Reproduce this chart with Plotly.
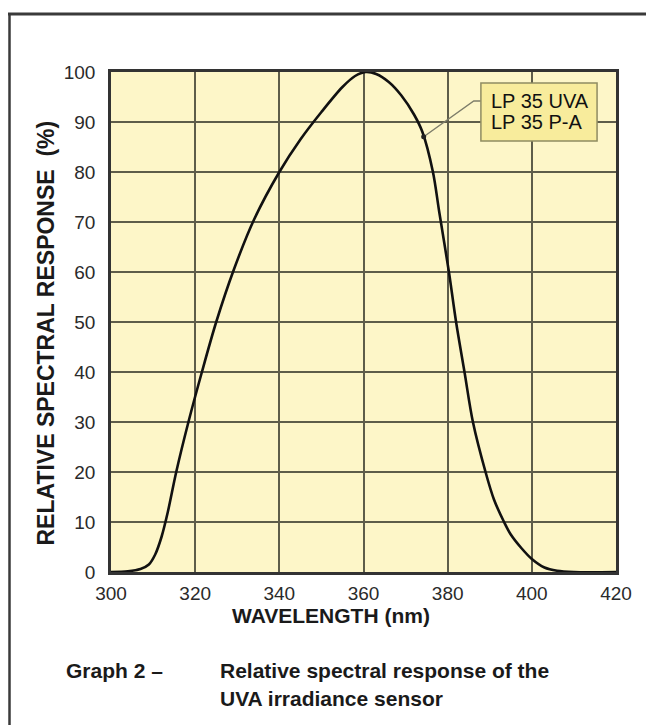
import numpy as np
import plotly.graph_objects as go

# Data
wavelength_nm = [300, 304, 307, 309, 310.5, 312, 313.5, 315.5, 318.4, 321.6, 325, 329.2,
                 334, 340, 345, 350, 355, 358, 360.5, 363, 366, 369, 372, 374, 376.5,
                 378, 380.3, 382, 384, 386, 389, 391, 393.4, 395, 397.5, 400, 403, 406,
                 410, 420]
response_pct = [0, 0.15, 0.6, 1.5, 3.5, 7, 12, 20, 30, 40, 50, 60.5,
                70.5, 80, 86.5, 92, 97, 99.2, 100, 99.6, 98, 95.3, 91.5, 88, 80,
                72, 60, 50, 40, 30, 20, 14.5, 10, 7.5, 4.8, 2.6, 0.9, 0.25,
                0, 0]
x_ticks = [300, 320, 340, 360, 380, 400, 420]
y_ticks = [0, 10, 20, 30, 40, 50, 60, 70, 80, 90, 100]
legend_lines = ["LP 35 UVA", "LP 35 P-A"]
pointer_wavelength = 374.3

FONT = "Liberation Sans, Arial, sans-serif"

fig = go.Figure()
fig.add_trace(go.Scatter(
    x=wavelength_nm, y=response_pct, mode="lines",
    line=dict(color="#111111", width=2.6, shape="spline", smoothing=0.9),
    hoverinfo="skip", showlegend=False))

pointer_y = float(np.interp(pointer_wavelength, wavelength_nm, response_pct))

# Leader line with dot on curve
fig.add_trace(go.Scatter(
    x=[387.9, 386.2, pointer_wavelength], y=[94.2, 94.2, pointer_y],
    mode="lines", line=dict(color="#7d7d6a", width=1.4),
    hoverinfo="skip", showlegend=False))
fig.add_trace(go.Scatter(
    x=[pointer_wavelength], y=[pointer_y], mode="markers",
    marker=dict(color="#222222", size=5), hoverinfo="skip", showlegend=False))

def px_x(p):
    return (p - 103) / 505

def px_y(p):
    return (564 - p) / 500

shapes = [
    # legend box
    dict(type="rect", xref="x", yref="y", x0=387.9, x1=415.5, y0=86.2, y1=97.8,
         fillcolor="#f8ec9c", line=dict(color="#8f8c62", width=1.5), layer="above"),
    # outer frame (top and left)
    dict(type="line", xref="paper", yref="paper", x0=px_x(-5), x1=px_x(660),
         y0=px_y(6), y1=px_y(6), line=dict(color="#3a3a3a", width=3)),
    dict(type="line", xref="paper", yref="paper", x0=px_x(1.5), x1=px_x(1.5),
         y0=px_y(5), y1=px_y(730), line=dict(color="#3a3a3a", width=2.5)),
]

annotations = [
    dict(text=legend_lines[0], xref="x", yref="y", x=389.9, y=(564 - 93) / 5,
         xanchor="left", yanchor="middle", showarrow=False,
         font=dict(family=FONT, size=20, color="#111111")),
    dict(text=legend_lines[1], xref="x", yref="y", x=389.9, y=(564 - 114) / 5,
         xanchor="left", yanchor="middle", showarrow=False,
         font=dict(family=FONT, size=20, color="#111111")),
    dict(text="<b>RELATIVE SPECTRAL RESPONSE  (%)</b>", xref="paper", yref="paper",
         x=px_x(37), y=px_y(111), xanchor="center", yanchor="top",
         textangle=-90, showarrow=False,
         font=dict(family=FONT, size=23, color="#1a1a1a")),
    dict(text="<b>WAVELENGTH (nm)</b>", xref="paper", yref="paper",
         x=px_x(323), y=px_y(607), xanchor="center", yanchor="middle",
         showarrow=False, font=dict(family=FONT, size=21, color="#1a1a1a")),
    dict(text="<b>Graph 2 –</b>", xref="paper", yref="paper",
         x=px_x(56), y=px_y(662), xanchor="left", yanchor="middle",
         showarrow=False, font=dict(family=FONT, size=21, color="#1a1a1a")),
    dict(text="<b>Relative spectral response of the</b>", xref="paper", yref="paper",
         x=px_x(210), y=px_y(662), xanchor="left", yanchor="middle",
         showarrow=False, font=dict(family=FONT, size=21, color="#1a1a1a")),
    dict(text="<b>UVA irradiance sensor</b>", xref="paper", yref="paper",
         x=px_x(210), y=px_y(690), xanchor="left", yanchor="middle",
         showarrow=False, font=dict(family=FONT, size=21, color="#1a1a1a")),
]

fig.update_layout(
    width=654, height=725,
    margin=dict(l=103, r=46, t=64, b=161),
    paper_bgcolor="white", plot_bgcolor="#fdf6c8",
    shapes=shapes, annotations=annotations,
    font=dict(family=FONT),
)
fig.update_xaxes(range=[300, 420], tickvals=x_ticks, showgrid=True,
                 gridcolor="#5e5d4a", gridwidth=1.5, zeroline=False,
                 showline=True, linecolor="#333333", linewidth=2.5, mirror=True,
                 ticks="", ticklabelstandoff=2,
                 tickfont=dict(family=FONT, size=19, color="#2a2a2a"))
fig.update_yaxes(range=[0, 100], tickvals=y_ticks, showgrid=True,
                 gridcolor="#5e5d4a", gridwidth=1.5, zeroline=False,
                 showline=True, linecolor="#333333", linewidth=2.5, mirror=True,
                 ticks="", ticklabelstandoff=9,
                 tickfont=dict(family=FONT, size=19, color="#2a2a2a"))

fig.write_html("out.html")
